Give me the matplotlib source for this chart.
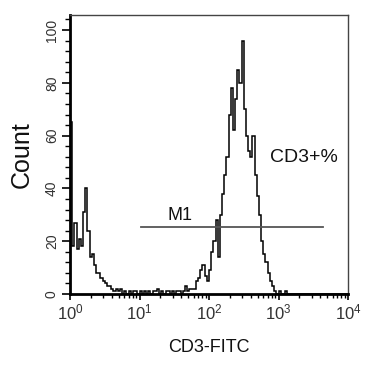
import numpy as np
import matplotlib
matplotlib.use("Agg")
import matplotlib.pyplot as plt
from matplotlib.ticker import MultipleLocator, LogLocator, NullFormatter

plt.rcParams['font.family'] = ['Liberation Sans', 'DejaVu Sans']
plt.rcParams['mathtext.fontset'] = 'custom'
plt.rcParams['mathtext.rm'] = 'Liberation Sans'
plt.rcParams['mathtext.it'] = 'Liberation Sans:italic'
plt.rcParams['mathtext.bf'] = 'Liberation Sans:bold'

# histogram channel counts (128 log-spaced channels over 10^0..10^4)
counts = [65, 18, 27, 17, 21, 18, 31, 40, 24, 14,
          15, 11, 8, 8, 6, 5, 4, 3, 3, 2,
          1, 2, 1, 2, 0, 1, 0, 1, 0, 1,
          1, 0, 1, 0, 1, 0, 1, 0, 1, 1,
          2, 0, 1, 0, 1, 1, 0, 1, 0, 1,
          1, 0, 1, 3, 1, 2, 2, 2, 5, 6,
          9, 11, 7, 5, 9, 16, 20, 28, 14, 30,
          38, 45, 52, 68, 78, 62, 74, 85, 80, 96,
          70, 60, 54, 52, 60, 45, 37, 30, 20, 15,
          12, 8, 5, 3, 1, 0, 1, 0, 0, 1] + [0] * 28
n_decades = 4
gate_x = [10.6, 4300]
gate_y = 25.4
gate_label = "M1"
pos_label = "CD3+%"
x_label = "CD3-FITC"
y_label = "Count"

edges = np.logspace(0, n_decades, len(counts) + 1)

fig = plt.figure(figsize=(3.79, 3.67), dpi=100)
ax = fig.add_axes([70/379, 1 - 294/367, 278/379, 279/367])

ax.stairs(counts, edges, color='black', lw=1.1, baseline=None)
ax.plot(gate_x, [gate_y, gate_y], color='#555555', lw=1.3)
ax.text(25, gate_y + 2.5, gate_label, fontsize=13, color='#111111', ha='left', va='baseline')
ax.text(760, 50, pos_label, fontsize=14, color='#111111', ha='left', va='baseline')

ax.set_xscale('log')
ax.set_xlim(1, 10**n_decades)
ax.set_ylim(0, 105.7)
ax.yaxis.set_major_locator(MultipleLocator(20))
ax.yaxis.set_minor_locator(MultipleLocator(4))
ax.xaxis.set_major_locator(LogLocator(base=10, numticks=10))
ax.xaxis.set_minor_locator(LogLocator(base=10, subs=np.arange(2, 10), numticks=10))
ax.xaxis.set_minor_formatter(NullFormatter())

ax.tick_params(axis='y', which='major', direction='out', length=6, width=1.2,
               labelsize=10, labelrotation=90, pad=2, labelcolor='#333333')
ax.tick_params(axis='y', which='minor', direction='out', length=3.5, width=1.0)
ax.tick_params(axis='x', which='major', direction='out', length=4, width=1.2,
               labelsize=12, pad=2, labelcolor='#333333')
ax.tick_params(axis='x', which='minor', direction='out', length=3, width=1.0)
for lab in ax.get_yticklabels():
    lab.set_verticalalignment('center')

for s in ['left', 'bottom']:
    ax.spines[s].set_linewidth(2.0)
    ax.spines[s].set_color('black')
for s in ['top', 'right']:
    ax.spines[s].set_linewidth(1.0)
    ax.spines[s].set_color('#444444')

ax.set_xlabel(x_label, fontsize=13, labelpad=12, color='#111111')
ax.set_ylabel(y_label, fontsize=18, labelpad=8, color='#111111')

fig.savefig('out.png', dpi=100)
